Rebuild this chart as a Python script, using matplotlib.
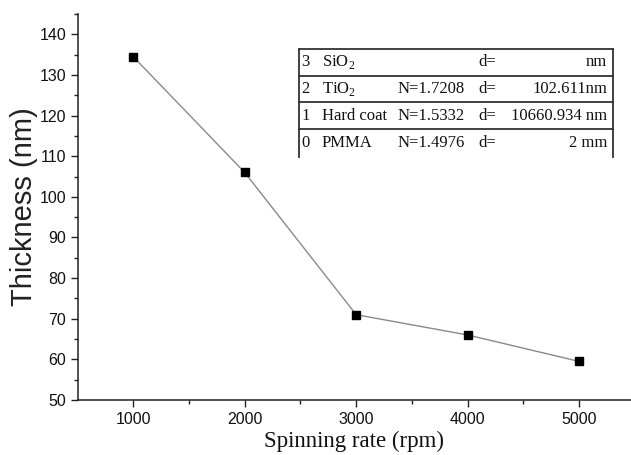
import matplotlib
matplotlib.use('Agg')
import matplotlib.pyplot as plt
from matplotlib.lines import Line2D
from matplotlib.ticker import MultipleLocator

# data
spin_rate = [1000, 2000, 3000, 4000, 5000]
thickness = [134.5, 106.0, 71.0, 66.0, 59.5]

# layer table
layer_idx = ['3', '2', '1', '0']
layer_name = ['SiO$_2$', 'TiO$_2$', 'Hard coat', 'PMMA']
layer_n = ['', 'N=1.7208', 'N=1.5332', 'N=1.4976']
layer_d = ['nm', '102.611nm', '10660.934 nm', '2 mm']

plt.rcParams['mathtext.fontset'] = 'custom'
plt.rcParams['mathtext.rm'] = 'Liberation Serif'

W, H = 631, 455
fig = plt.figure(figsize=(W / 100, H / 100), dpi=100)
ax = fig.add_axes([78 / W, 55 / H, (W - 78) / W, (400 - 14) / H])

ax.plot(spin_rate, thickness, color='#8a8a8a', lw=1.0, zorder=2)
ax.plot(spin_rate, thickness, ls='none', marker='s', ms=5.5, color='black', zorder=3)

ax.set_xlim(505, 5465)
ax.set_ylim(50, 145)
ax.xaxis.set_minor_locator(MultipleLocator(500))
ax.yaxis.set_major_locator(MultipleLocator(10))
ax.yaxis.set_minor_locator(MultipleLocator(5))
ax.set_xticks(spin_rate)

for s in ['top', 'right']:
    ax.spines[s].set_visible(False)
for s in ['left', 'bottom']:
    ax.spines[s].set_linewidth(1.1)
    ax.spines[s].set_color('#222222')

ax.tick_params(which='major', direction='out', length=5, width=1, colors='#222222',
               labelsize=11.5, labelcolor='#111111')
ax.tick_params(which='minor', direction='out', length=3, width=1, colors='#222222')
for lab in ax.get_xticklabels() + ax.get_yticklabels():
    lab.set_family('Liberation Sans')

ax.set_ylabel('Thickness (nm)', family='Liberation Sans', fontsize=21, color='#222222', labelpad=1)
ax.set_xlabel('Spinning rate (rpm)', family='Liberation Serif', fontsize=16.5, color='#111111', labelpad=3)

# table drawn in pixel coordinates
def px(x, y):
    return x / W, 1 - y / H

tx0, tx1 = 299, 613
row_lines = [49, 75.5, 102, 129]
for yl in row_lines:
    fig.add_artist(Line2D([tx0 / W, tx1 / W], [1 - yl / H] * 2, color='#333333', lw=1.3))
for xl in [tx0, tx1]:
    fig.add_artist(Line2D([xl / W] * 2, [1 - 49 / H, 1 - 157 / H], color='#333333', lw=1.3))

row_y = [62, 89, 116, 143]
tkw = dict(family='Liberation Serif', fontsize=12, color='#111111', va='center')
for i in range(len(layer_idx)):
    yy = row_y[i]
    fig.text(*px(301, yy), layer_idx[i], ha='left', **tkw)
    fig.text(*px(322, yy), layer_name[i], ha='left', **tkw)
    fig.text(*px(398, yy), layer_n[i], ha='left', **tkw)
    fig.text(*px(478, yy), 'd=', ha='left', **tkw)
    fig.text(*px(607, yy), layer_d[i], ha='right', **tkw)

fig.savefig('out.png', dpi=100)
